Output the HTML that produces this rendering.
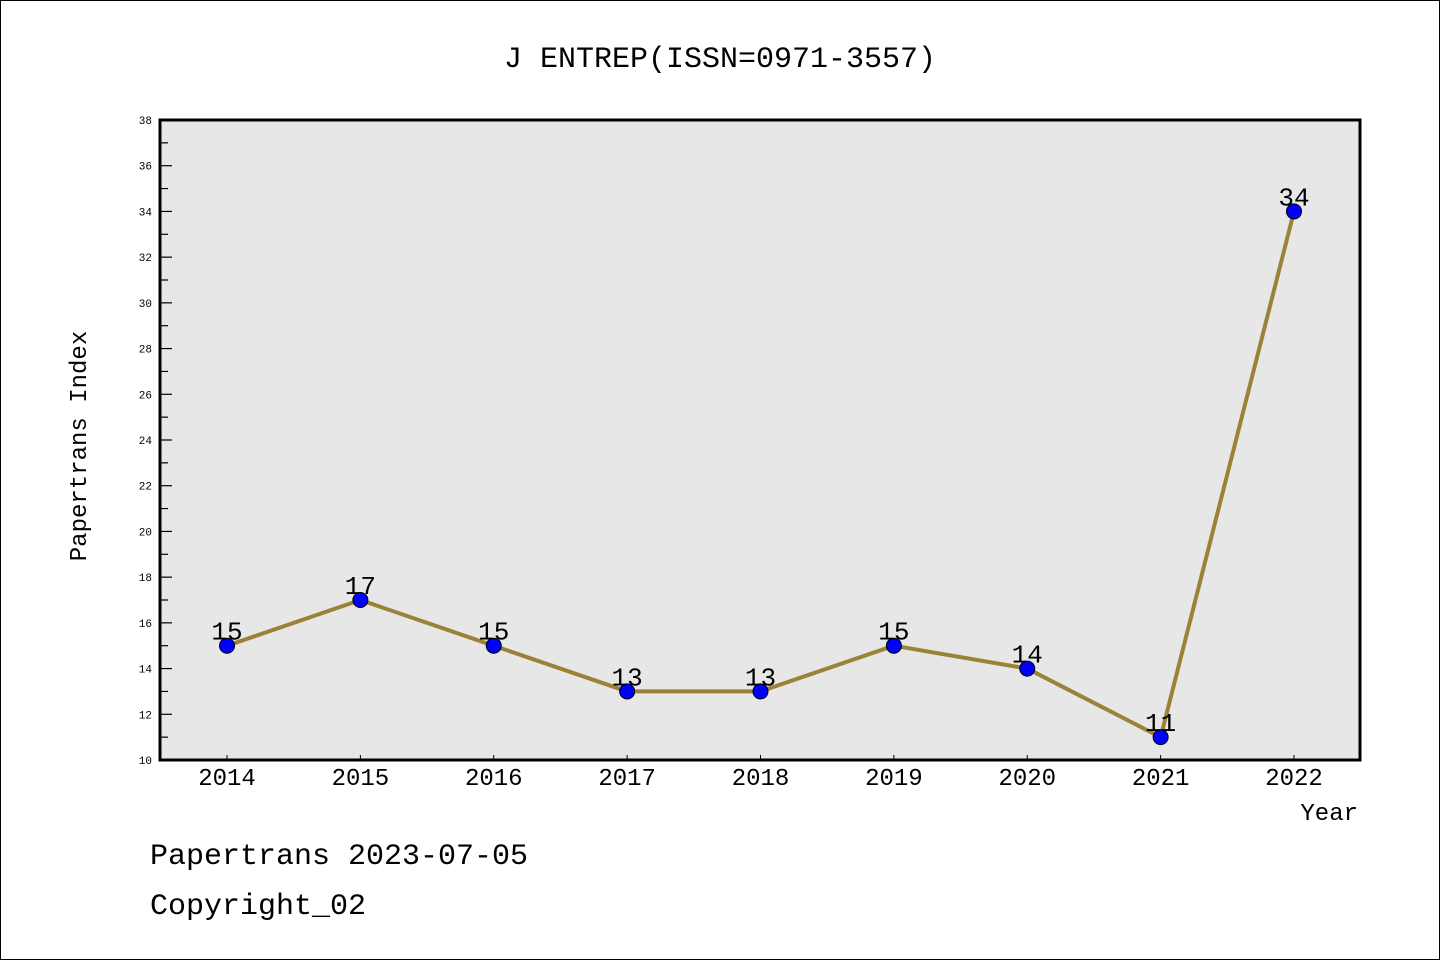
<!DOCTYPE html>
<html><head><meta charset="utf-8"><style>
html,body{margin:0;padding:0;background:#fff}
svg{display:block}
text{font-family:"Liberation Mono","DejaVu Sans Mono",monospace}
</style></head><body>
<svg id="chart" width="1440" height="960" xmlns="http://www.w3.org/2000/svg">
<rect x="0.5" y="0.5" width="1439" height="959" fill="#fff" stroke="#000" stroke-width="1"/>
<text x="720" y="67" text-anchor="middle" font-size="30">J ENTREP(ISSN=0971-3557)</text>
<rect x="160" y="120" width="1200" height="640" fill="#e7e7e7"/>
<g id="ticks"></g>
<g id="series"></g>
<rect x="160" y="120" width="1200" height="640" fill="none" stroke="#000" stroke-width="3"/>
<text x="86" y="446" text-anchor="middle" font-size="24" transform="rotate(-90 86 446)">Papertrans Index</text>
<text x="1358" y="820" text-anchor="end" font-size="24">Year</text>
<text x="150" y="864" font-size="30">Papertrans 2023-07-05</text>
<text x="150" y="914" font-size="30">Copyright_02</text>
</svg>
<script>
const years = ["2014","2015","2016","2017","2018","2019","2020","2021","2022"];
const values = [15,17,15,13,13,15,14,11,34];
const yTicks = [10,12,14,16,18,20,22,24,26,28,30,32,34,36,38];

const NS = "http://www.w3.org/2000/svg";
const X0 = 227, X1 = 1294, Y0 = 760, Y1 = 120, YMIN = 10, YMAX = 38;
function xs(i){ return X0 + (X1 - X0) * i / (years.length - 1); }
function ys(v){ return Y0 - (v - YMIN) / (YMAX - YMIN) * (Y0 - Y1); }
function mk(tag, attrs, parent){
  const e = document.createElementNS(NS, tag);
  for (const k in attrs) e.setAttribute(k, attrs[k]);
  parent.appendChild(e);
  return e;
}
const tg = document.getElementById('ticks');
yTicks.forEach((t, i) => {
  const y = ys(t);
  const l = mk('line', {x1:160, x2:172, y1:y, y2:y, stroke:'#000', 'stroke-width':1.2}, tg);
  
  
  const tx = mk('text', {x:152, y:y+4, 'text-anchor':'end', 'font-size':11}, tg);
  tx.textContent = t;
  
  
  if (i < yTicks.length - 1) {
    const ym = ys(t + 1);
    const m = mk('line', {x1:160, x2:168, y1:ym, y2:ym, stroke:'#000', 'stroke-width':1.2}, tg);
    
    
  }
});
years.forEach((yr, i) => {
  const x = xs(i);
  const l = mk('line', {x1:x, x2:x, y1:760, y2:755, stroke:'#000', 'stroke-width':1}, tg);
  
  
  const tx = mk('text', {x:x, y:785, 'text-anchor':'middle', 'font-size':24, 'font-family':'Liberation Sans, sans-serif'}, tg);
  tx.textContent = yr;
  
  
});
const sg = document.getElementById('series');
const pts = values.map((v, i) => xs(i) + ',' + ys(v)).join(' ');
const pl = mk('polyline', {points:pts, fill:'none', stroke:'#9a8338', 'stroke-width':4, 'stroke-linejoin':'round'}, sg);


values.forEach((v, i) => {
  const c = mk('circle', {cx:xs(i), cy:ys(v), r:7.5, fill:'#0000ff', stroke:'#000', 'stroke-width':1}, sg);
  
  
  const t = mk('text', {x:xs(i), y:ys(v)-6, 'text-anchor':'middle', 'font-size':26, 'font-family':'Liberation Sans, sans-serif'}, sg);
  t.textContent = v;
  
  
});
</script>
</body></html>
